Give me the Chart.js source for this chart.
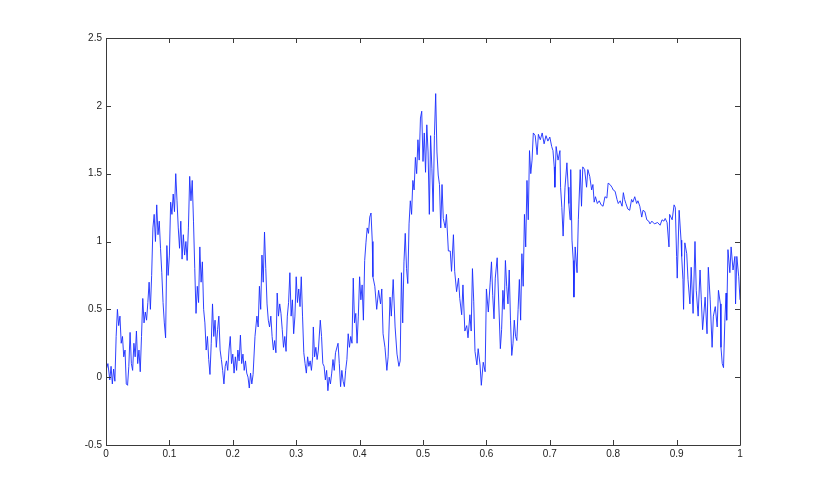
<!DOCTYPE html>
<html>
<head>
<meta charset="utf-8">
<script src="https://cdn.jsdelivr.net/npm/chart.js@4/dist/chart.umd.min.js"></script>
<style>
  html, body { margin: 0; padding: 0; background: #fff; }
  #wrap { width: 817px; height: 501px; }
</style>
</head>
<body>
<div id="wrap"><canvas id="signalChart" width="817" height="501"></canvas></div>
<script>
// sample positions (0..1) and signal values
const xs = [
  0.000, 0.003, 0.006, 0.008, 0.010, 0.012, 0.014, 0.016, 0.018, 0.020, 0.022, 0.024, 0.026, 0.028, 0.030, 0.032,
  0.034, 0.036, 0.038, 0.040, 0.042, 0.044, 0.046, 0.048, 0.050, 0.052, 0.054, 0.056, 0.058, 0.060, 0.062, 0.064,
  0.066, 0.068, 0.070, 0.072, 0.074, 0.076, 0.078, 0.080, 0.082, 0.084, 0.086, 0.088, 0.090, 0.092, 0.094, 0.096,
  0.098, 0.100, 0.102, 0.104, 0.106, 0.108, 0.110, 0.112, 0.114, 0.116, 0.118, 0.120, 0.122, 0.124, 0.126, 0.128,
  0.130, 0.132, 0.134, 0.136, 0.138, 0.140, 0.142, 0.144, 0.146, 0.148, 0.150, 0.152, 0.154, 0.156, 0.158, 0.160,
  0.162, 0.164, 0.166, 0.168, 0.170, 0.172, 0.174, 0.176, 0.178, 0.180, 0.182, 0.184, 0.186, 0.188, 0.190, 0.192,
  0.194, 0.196, 0.198, 0.200, 0.202, 0.204, 0.206, 0.208, 0.210, 0.212, 0.214, 0.216, 0.218, 0.220, 0.222, 0.224,
  0.226, 0.228, 0.230, 0.232, 0.235, 0.238, 0.240, 0.242, 0.244, 0.246, 0.248, 0.250, 0.252, 0.254, 0.256, 0.258,
  0.260, 0.262, 0.264, 0.266, 0.268, 0.270, 0.272, 0.274, 0.276, 0.278, 0.280, 0.282, 0.284, 0.286, 0.288, 0.290,
  0.292, 0.294, 0.296, 0.298, 0.300, 0.302, 0.304, 0.306, 0.308, 0.310, 0.312, 0.314, 0.316, 0.318, 0.320, 0.322,
  0.324, 0.326, 0.327, 0.329, 0.331, 0.333, 0.335, 0.338, 0.340, 0.342, 0.344, 0.346, 0.348, 0.350, 0.352, 0.354,
  0.356, 0.358, 0.360, 0.362, 0.366, 0.368, 0.370, 0.372, 0.374, 0.376, 0.378, 0.380, 0.382, 0.384, 0.386, 0.388,
  0.390, 0.392, 0.394, 0.396, 0.398, 0.400, 0.402, 0.404, 0.406, 0.408, 0.410, 0.412, 0.414, 0.416, 0.418, 0.420,
  0.421, 0.424, 0.427, 0.430, 0.433, 0.435, 0.437, 0.440, 0.443, 0.445, 0.448, 0.450, 0.453, 0.456, 0.459, 0.462,
  0.464, 0.466, 0.468, 0.470, 0.472, 0.474, 0.476, 0.478, 0.480, 0.482, 0.484, 0.486, 0.488, 0.490, 0.492, 0.494,
  0.496, 0.498, 0.500, 0.502, 0.504, 0.506, 0.508, 0.510, 0.512, 0.514, 0.516, 0.518, 0.520, 0.522, 0.524, 0.526,
  0.528, 0.530, 0.532, 0.535, 0.537, 0.540, 0.543, 0.545, 0.548, 0.550, 0.553, 0.556, 0.558, 0.561, 0.563, 0.566,
  0.569, 0.571, 0.574, 0.576, 0.578, 0.580, 0.582, 0.585, 0.587, 0.590, 0.592, 0.595, 0.598, 0.600, 0.603, 0.606,
  0.608, 0.610, 0.612, 0.614, 0.617, 0.620, 0.622, 0.624, 0.626, 0.628, 0.630, 0.632, 0.634, 0.636, 0.638, 0.640,
  0.642, 0.644, 0.646, 0.648, 0.650, 0.652, 0.654, 0.656, 0.658, 0.660, 0.662, 0.664, 0.666, 0.668, 0.670, 0.672,
  0.674, 0.677, 0.680, 0.682, 0.685, 0.688, 0.691, 0.694, 0.697, 0.700, 0.703, 0.705, 0.707, 0.708, 0.710, 0.713,
  0.716, 0.717, 0.719, 0.721, 0.724, 0.727, 0.729, 0.730, 0.732, 0.733, 0.735, 0.737, 0.738, 0.740, 0.743, 0.745,
  0.748, 0.750, 0.752, 0.755, 0.758, 0.760, 0.763, 0.766, 0.768, 0.770, 0.772, 0.775, 0.778, 0.781, 0.784, 0.787,
  0.790, 0.792, 0.795, 0.798, 0.800, 0.803, 0.806, 0.808, 0.811, 0.814, 0.816, 0.818, 0.820, 0.823, 0.826, 0.829,
  0.831, 0.834, 0.837, 0.839, 0.842, 0.845, 0.847, 0.850, 0.853, 0.856, 0.858, 0.861, 0.865, 0.870, 0.874, 0.877,
  0.880, 0.882, 0.885, 0.888, 0.889, 0.893, 0.896, 0.898, 0.900, 0.901, 0.904, 0.907, 0.908, 0.910, 0.911, 0.913,
  0.916, 0.918, 0.921, 0.923, 0.926, 0.929, 0.931, 0.934, 0.937, 0.939, 0.941, 0.945, 0.948, 0.950, 0.953, 0.956,
  0.958, 0.961, 0.964, 0.966, 0.969, 0.970, 0.972, 0.974, 0.976, 0.978, 0.979, 0.981, 0.984, 0.986, 0.989, 0.992,
  0.993, 0.995, 0.998, 1.000
];

const ys = [
  0.05, 0.10, -0.02, 0.08, -0.05, 0.06, -0.03, 0.30, 0.50, 0.38, 0.45, 0.25, 0.30, 0.15, 0.20, -0.05,
  -0.06, 0.08, 0.33, 0.10, 0.05, 0.25, 0.15, 0.34, 0.10, 0.20, 0.04, 0.30, 0.58, 0.40, 0.48, 0.42,
  0.55, 0.70, 0.50, 0.75, 1.10, 1.20, 1.00, 1.27, 1.05, 1.15, 0.95, 0.77, 0.55, 0.40, 0.29, 0.97,
  0.75, 0.90, 1.29, 1.20, 1.35, 1.22, 1.50, 1.30, 1.10, 0.95, 1.15, 0.87, 1.05, 0.90, 1.00, 0.86,
  1.10, 1.48, 1.30, 1.45, 1.15, 0.80, 0.47, 0.67, 0.55, 0.96, 0.70, 0.85, 0.50, 0.40, 0.20, 0.30,
  0.13, 0.02, 0.25, 0.54, 0.30, 0.42, 0.22, 0.35, 0.45, 0.20, 0.13, 0.05, -0.05, 0.08, 0.12, 0.05,
  0.20, 0.30, 0.10, 0.17, 0.03, 0.15, 0.05, 0.20, 0.12, 0.31, 0.10, 0.17, 0.05, 0.12, 0.03, 0.00,
  -0.08, 0.03, -0.05, 0.02, 0.30, 0.45, 0.37, 0.67, 0.50, 0.90, 0.70, 1.07, 0.80, 0.54, 0.42, 0.37,
  0.45, 0.30, 0.20, 0.27, 0.18, 0.62, 0.45, 0.54, 0.47, 0.35, 0.22, 0.30, 0.19, 0.45, 0.55, 0.77,
  0.45, 0.57, 0.32, 0.45, 0.74, 0.55, 0.65, 0.52, 0.74, 0.45, 0.18, 0.10, 0.03, 0.15, 0.08, 0.12,
  0.05, 0.15, 0.37, 0.15, 0.22, 0.13, 0.20, 0.42, 0.30, 0.10, 0.08, -0.02, 0.05, -0.10, 0.00, -0.05,
  0.03, 0.13, 0.05, 0.18, 0.25, 0.10, -0.07, 0.05, -0.03, -0.07, 0.05, 0.13, 0.32, 0.22, 0.30, 0.25,
  0.73, 0.40, 0.47, 0.25, 0.45, 0.74, 0.57, 0.68, 0.42, 0.86, 0.99, 1.10, 1.06, 1.18, 1.21, 1.00,
  0.74, 0.67, 0.50, 0.64, 0.54, 0.65, 0.32, 0.22, 0.05, 0.15, 0.59, 0.45, 0.72, 0.37, 0.17, 0.08,
  0.12, 0.77, 0.40, 0.85, 1.06, 0.80, 0.69, 1.13, 1.30, 1.20, 1.45, 1.38, 1.62, 1.50, 1.75, 1.60,
  1.91, 1.96, 1.59, 1.80, 1.51, 1.86, 1.66, 1.20, 1.78, 1.54, 1.22, 1.78, 2.09, 1.66, 1.49, 1.42,
  1.10, 1.42, 1.17, 1.10, 1.20, 0.93, 0.93, 0.78, 1.05, 0.78, 0.63, 0.73, 0.58, 0.46, 0.68, 0.34,
  0.38, 0.29, 0.46, 0.34, 0.80, 0.56, 0.19, 0.09, 0.21, 0.09, -0.06, 0.11, 0.04, 0.65, 0.48, 0.70,
  0.85, 0.60, 0.43, 0.73, 0.88, 0.48, 0.21, 0.35, 0.64, 0.50, 0.86, 0.67, 0.54, 0.79, 0.42, 0.16,
  0.25, 0.42, 0.30, 0.27, 0.50, 0.72, 0.42, 0.91, 0.67, 1.20, 0.96, 1.45, 1.16, 1.67, 1.50, 1.60,
  1.80, 1.78, 1.64, 1.79, 1.75, 1.80, 1.72, 1.78, 1.74, 1.77, 1.70, 1.67, 1.55, 1.40, 1.70, 1.60,
  1.67, 1.40, 1.25, 1.04, 1.40, 1.58, 1.40, 1.28, 1.16, 1.53, 1.01, 0.86, 0.59, 0.96, 0.77, 1.16,
  1.53, 1.26, 1.55, 1.53, 1.40, 1.53, 1.48, 1.38, 1.42, 1.29, 1.33, 1.28, 1.30, 1.27, 1.26, 1.33,
  1.32, 1.43, 1.42, 1.40, 1.38, 1.37, 1.31, 1.28, 1.30, 1.26, 1.36, 1.31, 1.28, 1.24, 1.23, 1.31,
  1.29, 1.33, 1.28, 1.30, 1.26, 1.18, 1.23, 1.22, 1.16, 1.15, 1.13, 1.15, 1.13, 1.14, 1.12, 1.16,
  1.15, 1.17, 1.14, 0.96, 1.20, 1.16, 1.27, 1.25, 0.89, 0.73, 1.23, 1.01, 0.89, 0.72, 0.50, 0.99,
  0.91, 0.72, 0.54, 0.81, 0.47, 1.00, 0.64, 0.45, 0.79, 0.57, 0.35, 0.59, 0.32, 0.81, 0.57, 0.22,
  0.45, 0.52, 0.37, 0.64, 0.54, 0.22, 0.10, 0.07, 0.40, 0.62, 0.42, 0.94, 0.77, 0.96, 0.79, 0.89,
  0.54, 0.89, 0.74, 0.57
];

const xTicks = [0, 0.1, 0.2, 0.3, 0.4, 0.5, 0.6, 0.7, 0.8, 0.9, 1];
const yTicks = [-0.5, 0, 0.5, 1, 1.5, 2, 2.5];

const points = xs.map((x, i) => ({ x: x, y: ys[i] }));

// MATLAB-style box with inward ticks on all four sides
const boxTicks = {
  id: 'boxTicks',
  afterDraw(chart) {
    const { ctx, chartArea: a, scales: { x, y } } = chart;
    const len = 5;
    ctx.save();
    ctx.strokeStyle = '#3a3a3a';
    ctx.lineWidth = 1;
    ctx.beginPath();
    ctx.rect(Math.round(a.left) + 0.5, Math.round(a.top) + 0.5,
             Math.round(a.right - a.left), Math.round(a.bottom - a.top));
    xTicks.forEach(v => {
      const px = Math.round(x.getPixelForValue(v)) + 0.5;
      ctx.moveTo(px, a.bottom); ctx.lineTo(px, a.bottom - len);
      ctx.moveTo(px, a.top); ctx.lineTo(px, a.top + len);
    });
    yTicks.forEach(v => {
      const py = Math.round(y.getPixelForValue(v)) + 0.5;
      ctx.moveTo(a.left, py); ctx.lineTo(a.left + len, py);
      ctx.moveTo(a.right, py); ctx.lineTo(a.right - len, py);
    });
    ctx.stroke();
    ctx.restore();
  }
};

const ctx = document.getElementById('signalChart').getContext('2d');
new Chart(ctx, {
  type: 'line',
  data: {
    datasets: [{
      data: points,
      borderColor: 'rgb(25, 45, 255)',
      borderWidth: 0.9,
      pointRadius: 0,
      tension: 0,
      fill: false
    }]
  },
  options: {
    responsive: false,
    animation: false,
    layout: { padding: { top: 38, right: 77, left: 0, bottom: 0 } },
    plugins: { legend: { display: false }, tooltip: { enabled: false } },
    scales: {
      x: {
        type: 'linear',
        min: 0,
        max: 1,
        afterBuildTicks: s => { s.ticks = xTicks.map(v => ({ value: v })); },
        afterFit: s => { s.height = 56; },
        grid: { display: false, drawTicks: false },
        border: { display: false },
        ticks: {
          color: '#222',
          font: { family: 'Liberation Sans', size: 10 },
          padding: 3,
          maxRotation: 0,
          autoSkip: false,
          callback: v => String(v)
        }
      },
      y: {
        type: 'linear',
        min: -0.5,
        max: 2.5,
        afterBuildTicks: s => { s.ticks = yTicks.map(v => ({ value: v })); },
        afterFit: s => { s.width = 106; },
        grid: { display: false, drawTicks: false },
        border: { display: false },
        ticks: {
          color: '#222',
          font: { family: 'Liberation Sans', size: 10 },
          padding: 4,
          autoSkip: false,
          callback: v => String(v)
        }
      }
    }
  },
  plugins: [boxTicks]
});
</script>
</body>
</html>
